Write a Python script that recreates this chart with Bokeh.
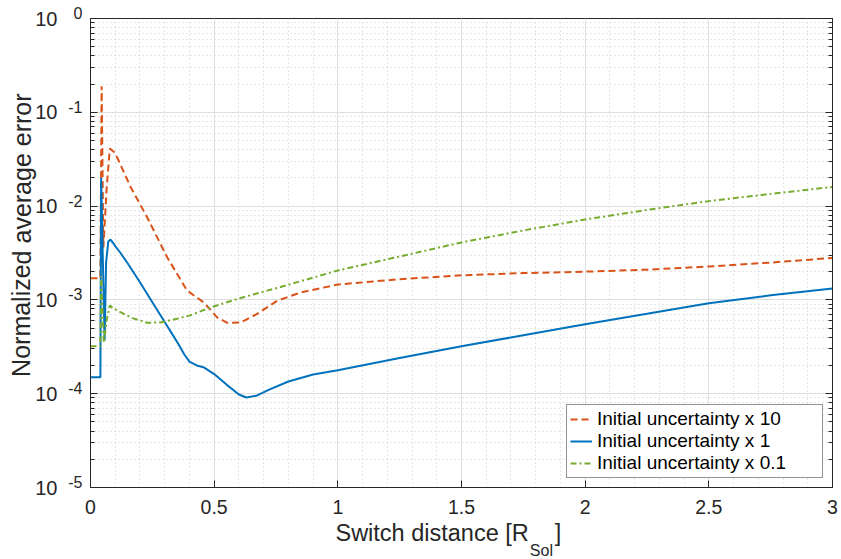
from bokeh.plotting import figure
from bokeh.models import (Range1d, FixedTicker, LogAxis, CustomJSTickFormatter, Label)
from bokeh.embed import file_html
from bokeh.resources import INLINE

# ---- data ----
x10_x = [0, 0.040, 0.045, 0.052, 0.065, 0.078, 0.094, 0.108, 0.162, 0.229, 0.31, 0.39, 0.458,
         0.512, 0.553, 0.607, 0.674, 0.755, 0.85, 1.0, 1.25, 1.5, 1.75, 2.0, 2.25, 2.5, 2.75, 3.0]
x10_y = [1.7e-3, 1.7e-3, 0.19, 3.6e-3, 1.5e-2, 4.1e-2, 3.8e-2, 3.3e-2, 1.6e-2, 7.6e-3, 2.85e-3,
         1.26e-3, 9.4e-4, 6.5e-4, 5.7e-4, 5.75e-4, 7.1e-4, 9.8e-4, 1.2e-3, 1.46e-3, 1.66e-3,
         1.83e-3, 1.93e-3, 2.0e-3, 2.1e-3, 2.27e-3, 2.5e-3, 2.8e-3]

x1_x = [0, 0.040, 0.043, 0.050, 0.057, 0.063, 0.072, 0.081, 0.094, 0.10, 0.12, 0.15, 0.20, 0.25,
        0.30, 0.35, 0.38, 0.40, 0.43, 0.46, 0.50, 0.55, 0.60, 0.63, 0.67, 0.72, 0.80, 0.90, 1.0,
        1.25, 1.5, 1.75, 2.0, 2.25, 2.5, 2.75, 3.0]
x1_y = [1.5e-4, 1.5e-4, 2.0e-2, 2.6e-3, 3.7e-4, 2.5e-3, 4.2e-3, 4.4e-3, 3.95e-3, 3.75e-3, 3.2e-3,
        2.46e-3, 1.54e-3, 9.45e-4, 5.8e-4, 3.57e-4, 2.6e-4, 2.2e-4, 2.0e-4, 1.9e-4, 1.62e-4,
        1.25e-4, 9.8e-5, 9.1e-5, 9.5e-5, 1.1e-4, 1.35e-4, 1.6e-4, 1.78e-4, 2.4e-4, 3.2e-4,
        4.2e-4, 5.5e-4, 7.1e-4, 9.2e-4, 1.12e-3, 1.32e-3]

x01_x = [0, 0.040, 0.043, 0.054, 0.065, 0.078, 0.094, 0.121, 0.17, 0.229, 0.283, 0.35, 0.40,
         0.485, 0.607, 0.768, 1.0, 1.25, 1.5, 1.75, 2.0, 2.25, 2.5, 2.75, 3.0]
x01_y = [3.2e-4, 3.2e-4, 1.8e-3, 3.5e-4, 6.0e-4, 8.7e-4, 8.1e-4, 7.4e-4, 6.4e-4, 5.7e-4, 5.75e-4,
         6.3e-4, 6.8e-4, 8.3e-4, 1.05e-3, 1.37e-3, 2.06e-3, 2.9e-3, 4.1e-3, 5.5e-3, 7.2e-3,
         9.1e-3, 1.13e-2, 1.35e-2, 1.6e-2]

series_names = ["Initial uncertainty x 10", "Initial uncertainty x 1", "Initial uncertainty x 0.1"]

x_ticks = [0, 0.5, 1, 1.5, 2, 2.5, 3]
x_minor = [i / 10 for i in range(0, 31)]
y_ticks = [1e-5, 1e-4, 1e-3, 1e-2, 1e-1, 1e0]
y_base = ["10", "10", "10", "10", "10", "10"]
y_exponents = ["-5", "-4", "-3", "-2", "-1", "0"]
y_minor = [m * 10.0 ** k for k in range(-5, 0) for m in range(2, 10)]

TXT = "#262626"
FONT = "Liberation Sans"
ORANGE = "#D95319"
BLUE = "#0072BD"
GREEN = "#77AC30"
NB = "\u00a0"

p = figure(width=841, height=559, x_range=Range1d(0, 3), y_range=Range1d(1e-5, 1),
           y_axis_type="log", output_backend="svg", toolbar_location=None,
           min_border_left=90, min_border_right=9, min_border_top=18, min_border_bottom=72,
           background_fill_color="white", border_fill_color="white")
p.outline_line_color = TXT
p.outline_line_width = 1

blank = CustomJSTickFormatter(code="return ''")
lookup = """
for (let i = 0; i < vals.length; i++) {
  if (Math.abs(Math.log10(vals[i]) - Math.log10(tick)) < 1e-6) return labs[i];
}
return '';
"""

xt = FixedTicker(ticks=x_ticks, minor_ticks=x_minor)
yt = FixedTicker(ticks=y_ticks, minor_ticks=y_minor)

# bottom axis
xa = p.xaxis[0]
xa.ticker = xt
xa.major_label_text_font = FONT
xa.major_label_text_font_size = "19.5px"
xa.major_label_text_color = TXT
xa.major_label_standoff = 12
xa.minor_tick_line_color = None
xa.axis_label = "Switch distance [R" + NB * 4 + "]" + NB * 4
xa.axis_label_text_font = FONT
xa.axis_label_text_font_size = "23.5px"
xa.axis_label_text_font_style = "normal"
xa.axis_label_text_color = TXT
xa.axis_label_standoff = 3

# left axis (frame side): tick marks + exponent labels
ya = p.yaxis[0]
ya.ticker = yt
ya.formatter = CustomJSTickFormatter(args=dict(vals=y_ticks, labs=[e + "\n" for e in y_exponents]),
                                     code=lookup)
ya.major_label_text_font = FONT
ya.major_label_text_font_size = "16px"
ya.major_label_text_line_height = 0.6
ya.major_label_text_color = TXT
ya.major_label_standoff = 8

# second left axis: the "10" bases
ybase = LogAxis(ticker=FixedTicker(ticks=y_ticks, minor_ticks=[]),
                formatter=CustomJSTickFormatter(args=dict(vals=y_ticks, labs=y_base), code=lookup),
                major_label_text_font=FONT, major_label_text_font_size="20px",
                major_label_text_color=TXT, major_label_standoff=2,
                axis_line_color=None, major_tick_line_color=None, minor_tick_line_color=None)
p.add_layout(ybase, "left")

right = LogAxis(ticker=yt, formatter=blank, major_label_standoff=0)
p.add_layout(right, "right")

for ax in [xa, ya, right]:
    ax.axis_line_color = TXT
    ax.major_tick_line_color = TXT
    ax.major_tick_in = 7
    ax.major_tick_out = 0
    ax.minor_tick_in = 4
    ax.minor_tick_out = 0
for ax in [ya, right]:
    ax.minor_tick_line_color = TXT

# grids
p.xgrid.grid_line_color = "#dedede"
p.ygrid.grid_line_color = "#dedede"
p.xgrid.minor_grid_line_color = "#cfcfcf"
p.ygrid.minor_grid_line_color = "#cfcfcf"
p.xgrid.minor_grid_line_dash = "1 3"
p.ygrid.minor_grid_line_dash = "1 3"

# lines
p.line(x10_x, x10_y, line_color=ORANGE, line_width=2, line_dash="7 4", legend_label=series_names[0])
p.line(x1_x, x1_y, line_color=BLUE, line_width=2, legend_label=series_names[1])
p.line(x01_x, x01_y, line_color=GREEN, line_width=2, line_dash="6 3 2 3", legend_label=series_names[2])

lg = p.legend[0]
lg.location = "bottom_right"
lg.margin = 9
lg.padding = 3
lg.spacing = 0
lg.glyph_width = 22
lg.glyph_height = 22
lg.label_height = 22
lg.label_width = 222
lg.label_standoff = 5
lg.label_text_font = FONT
lg.label_text_font_size = "19px"
lg.label_text_color = "black"
lg.border_line_color = TXT
lg.border_line_width = 1
lg.background_fill_alpha = 1

# y axis title (side panel, so it is not clipped to the frame)
p.add_layout(Label(x=0, y=10 ** -2.31, x_offset=-69, text="Normalized average error",
                   angle=1.5707963, text_align="center", text_baseline="middle",
                   text_font=FONT, text_font_size="25px", text_color=TXT), "left")
# subscript of the x axis title
p.add_layout(Label(x=1.0, y=1e-5, x_offset=192, y_offset=-63, text="Sol", text_align="left",
                   text_baseline="alphabetic", text_font=FONT, text_font_size="16px",
                   text_color=TXT), "above")

open("out.html", "w").write(file_html(p, INLINE))
